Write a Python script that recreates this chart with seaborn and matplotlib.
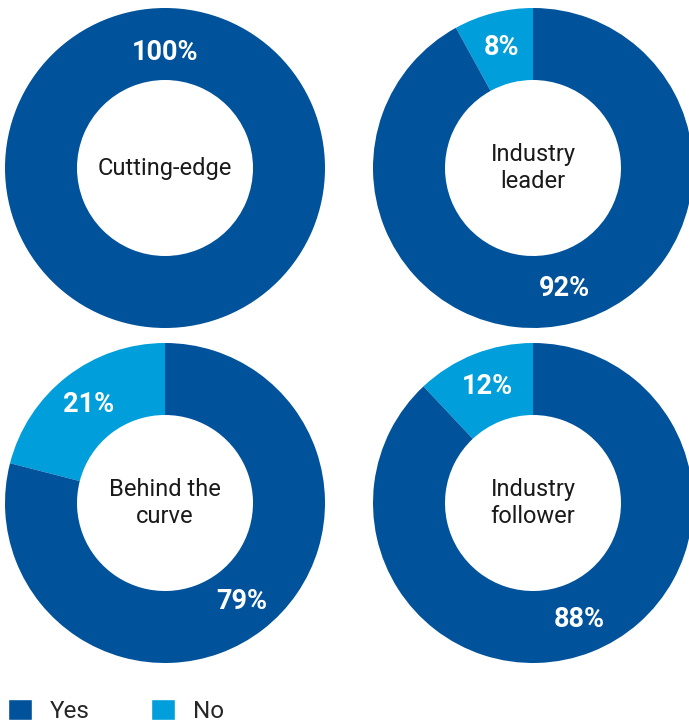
import matplotlib.pyplot as plt
from matplotlib.patches import Patch
import numpy as np
import seaborn as sns

sns.set_style("white")
plt.rcParams['font.family'] = ['Roboto', 'DejaVu Sans']

segments = ["Cutting-edge", "Industry\nleader", "Behind the\ncurve", "Industry\nfollower"]
yes = [100, 92, 79, 88]
no = [0, 8, 21, 12]
answers = ["No", "Yes"]
colors = {"Yes": "#00529b", "No": "#009fdb"}

W, H = 689, 722
fig = plt.figure(figsize=(W / 100, H / 100), dpi=100)

# donut centres in pixels (x, y from top), outer radius in pixels
centres = [(165, 168), (533, 168), (165, 503), (533, 503)]
R = 160

for i, name in enumerate(segments):
    cx, cy = centres[i]
    ax = fig.add_axes([(cx - R) / W, 1 - (cy + R) / H, 2 * R / W, 2 * R / H])
    vals = [no[i], yes[i]]
    wedges, _ = ax.pie(vals, startangle=90, counterclock=True,
                       colors=[colors[a] for a in answers],
                       wedgeprops=dict(width=0.45, linewidth=0))
    for w, v in zip(wedges, vals):
        if v == 0:
            continue
        span = w.theta2 - w.theta1
        if span >= 359.9:
            mid, r = 90, 0.72
        else:
            mid, r = (w.theta1 + w.theta2) / 2, 0.78
        ax.text(r * np.cos(np.radians(mid)), r * np.sin(np.radians(mid)), f"{v}%",
                ha="center", va="center", color="white", fontsize=19.5, fontweight="bold")
    ax.text(0, 0, name, ha="center", va="center", fontsize=17, color="#1a1a1a",
            linespacing=1.25)
    ax.set_xlim(-1, 1)
    ax.set_ylim(-1, 1)
    ax.axis("off")

handles = [Patch(facecolor=colors["Yes"], label="Yes"), Patch(facecolor=colors["No"], label="No")]
fig.legend(handles=handles, loc="lower left", bbox_to_anchor=(0.004, -0.008), ncol=2,
           frameon=False, fontsize=17.5, handlelength=1.0, handleheight=1.0,
           handletextpad=0.75, columnspacing=2.5, borderaxespad=0, borderpad=0.2)

fig.savefig("out.png", dpi=100)
